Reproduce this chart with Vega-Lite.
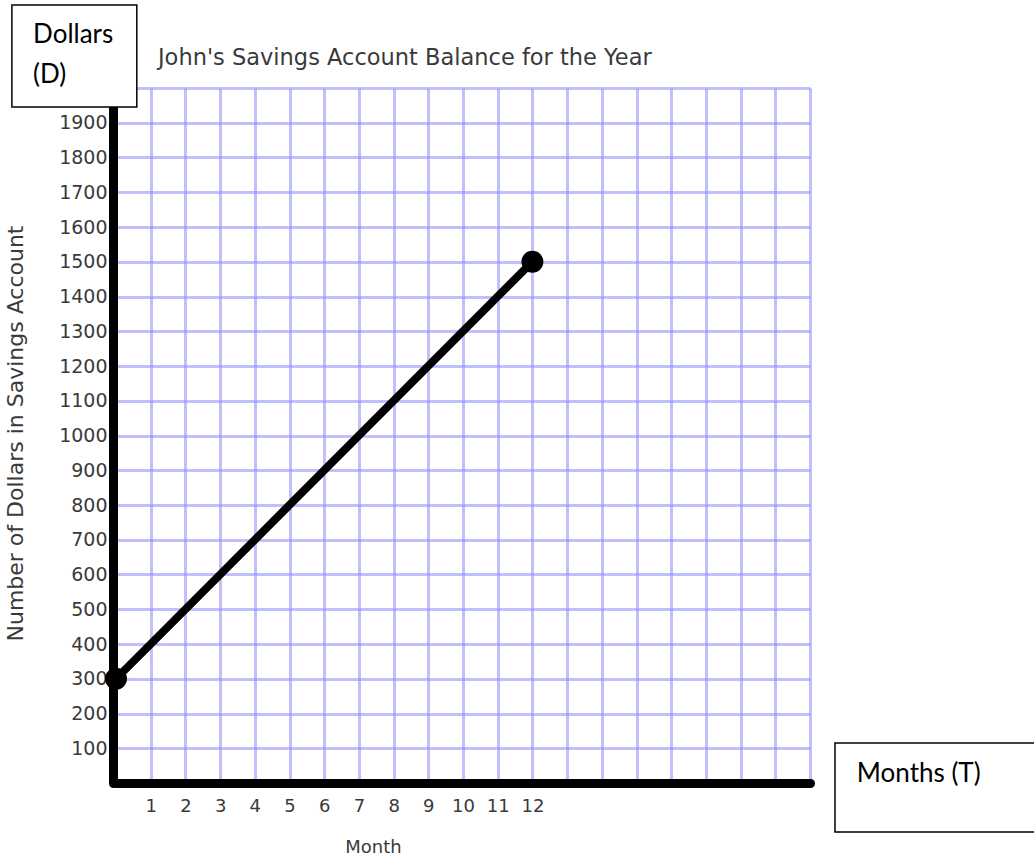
{
  "$schema": "https://vega.github.io/schema/vega-lite/v6.json",
  "autosize": {"type": "none"},
  "width": 694,
  "height": 695,
  "padding": {"left": 116, "top": 88, "right": 224, "bottom": 73},
  "background": "white",
  "config": {
    "view": {"stroke": null},
    "axis": {
      "labelFont": "DejaVu Sans",
      "labelFontSize": 19,
      "labelColor": "#3a3a3a",
      "titleFont": "DejaVu Sans",
      "titleFontSize": 18,
      "titleFontWeight": "normal",
      "titleColor": "#3a3a3a",
      "gridColor": "#8c8cff",
      "gridOpacity": 0.55,
      "gridWidth": 3,
      "domainColor": "black",
      "domainWidth": 9,
      "domainCap": "round",
      "ticks": false,
      "labelOverlap": false,
      "labelFlush": false
    }
  },
  "data": {"values": [
    {"kind": "line", "month": 0, "dollars": 300},
    {"kind": "line", "month": 12, "dollars": 1500},
    {"kind": "box", "month": -3.0, "month2": 0.6, "dollars": 1945, "dollars2": 2239},
    {"kind": "box", "month": 20.72, "month2": 26.6, "dollars": -141, "dollars2": 115},
    {"kind": "note", "label": "Dollars", "month": -2.39, "dollars": 2129},
    {"kind": "note", "label": "(D)", "month": -2.39, "dollars": 2014},
    {"kind": "note", "label": "Months (T)", "month": 21.35, "dollars": 3},
    {"kind": "title", "label": "John's Savings Account Balance for the Year", "month": 1.21, "dollars": 2066}
  ]},
  "encoding": {
    "x": {
      "field": "month", "type": "quantitative",
      "scale": {"domain": [0, 20], "nice": false, "zero": false},
      "axis": {
        "values": [0,1,2,3,4,5,6,7,8,9,10,11,12,13,14,15,16,17,18,19,20],
        "labelExpr": "datum.value >= 1 && datum.value <= 12 ? datum.label : ''",
        "labelPadding": 14,
        "labelFontSize": 18,
        "title": "Month",
        "titleX": 257,
        "titleY": 69,
        "titleAlign": "center",
        "titleBaseline": "alphabetic"
      }
    },
    "y": {
      "field": "dollars", "type": "quantitative",
      "scale": {"domain": [0, 2000], "nice": false, "zero": false},
      "axis": {
        "values": [0,100,200,300,400,500,600,700,800,900,1000,1100,1200,1300,1400,1500,1600,1700,1800,1900,2000],
        "labelExpr": "datum.value >= 100 && datum.value <= 1900 ? datum.value : ''",
        "labelPadding": 6,
        "offset": 3,
        "title": "Number of Dollars in Savings Account",
        "titleFontSize": 22,
        "titleAngle": -90,
        "titleX": -98,
        "titleY": 345,
        "titleAlign": "center",
        "titleBaseline": "middle"
      }
    }
  },
  "layer": [
    {
      "transform": [{"filter": "datum.kind === 'line'"}],
      "mark": {"type": "line", "color": "black", "strokeWidth": 8, "point": {"filled": true, "color": "black", "size": 480, "opacity": 1}}
    },
    {
      "transform": [{"filter": "datum.kind === 'box'"}],
      "mark": {"type": "rect", "fill": "white", "stroke": "black", "strokeWidth": 1.5},
      "encoding": {
        "x2": {"field": "month2"},
        "y2": {"field": "dollars2"}
      }
    },
    {
      "transform": [{"filter": "datum.kind === 'note'"}],
      "mark": {"type": "text", "align": "left", "baseline": "alphabetic", "font": "Lato", "fontSize": 26, "color": "black"},
      "encoding": {"text": {"field": "label"}}
    },
    {
      "transform": [{"filter": "datum.kind === 'title'"}],
      "mark": {"type": "text", "align": "left", "baseline": "alphabetic", "font": "DejaVu Sans", "fontSize": 22.5, "color": "#3a3a3a"},
      "encoding": {"text": {"field": "label"}}
    }
  ]
}
